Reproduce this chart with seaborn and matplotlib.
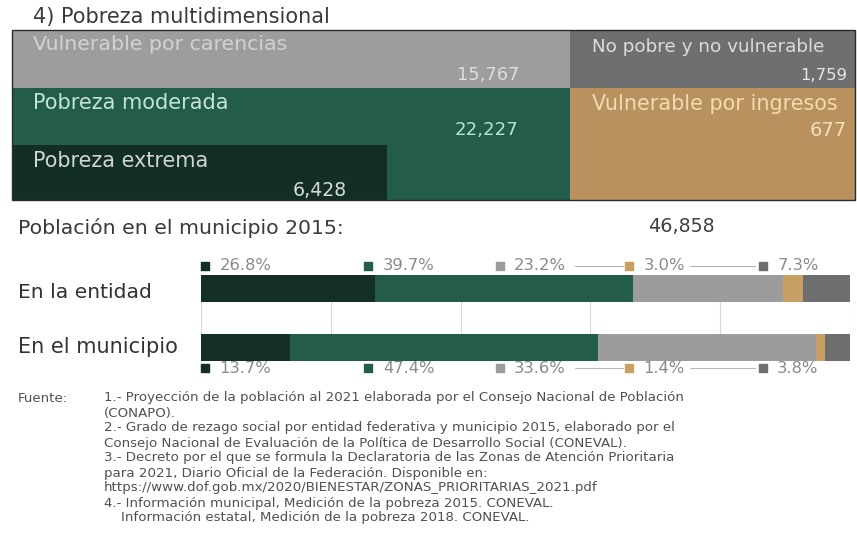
import matplotlib
matplotlib.use("Agg")
import matplotlib.pyplot as plt
import seaborn as sns
import pandas as pd
import numpy as np
from matplotlib.patches import Rectangle

# ---------------- data ----------------
TITLE = "4) Pobreza multidimensional"
BLOCK_LABELS = ["Vulnerable por carencias", "Pobreza moderada", "Pobreza extrema",
                "No pobre y no vulnerable", "Vulnerable por ingresos"]
BLOCK_VALUES = [15767, 22227, 6428, 1759, 677]

POP_LABEL = "Población en el municipio 2015:"
POP_VALUE = 46858

REGIONS = ["En la entidad", "En el municipio"]
CATEGORIES = ["Pobreza extrema", "Pobreza moderada", "Vulnerable por carencias",
              "Vulnerable por ingresos", "No pobre y no vulnerable"]
ENTIDAD_PCT = [26.8, 39.7, 23.2, 3.0, 7.3]
MUNICIPIO_PCT = [13.7, 47.4, 33.6, 1.4, 3.8]

FUENTE = "Fuente:"
FOOTNOTES = [
    "1.- Proyección de la población al 2021 elaborada por el Consejo Nacional de Población",
    "(CONAPO).",
    "2.- Grado de rezago social por entidad federativa y municipio 2015, elaborado por el",
    "Consejo Nacional de Evaluación de la Política de Desarrollo Social (CONEVAL).",
    "3.- Decreto por el que se formula la Declaratoria de las Zonas de Atención Prioritaria",
    "para 2021, Diario Oficial de la Federación. Disponible en:",
    "https://www.dof.gob.mx/2020/BIENESTAR/ZONAS_PRIORITARIAS_2021.pdf",
    "4.- Información municipal, Medición de la pobreza 2015. CONEVAL.",
    "Información estatal, Medición de la pobreza 2018. CONEVAL.",
]

# ---------------- styles / layout ----------------
SEG_COLORS = ["#142f28", "#245c4a", "#9c9c9c", "#c9a064", "#6e6e6e"]
BLOCK_COLORS = ["#9d9d9d", "#245c4a", "#132e27", "#6f6f6f", "#b8915f"]
BLOCK_NAME_COLORS = ["#d2d2d2", "#c3e4d6", "#d0d6d3", "#dcdcdc", "#f2dab2"]
BLOCK_VALUE_COLORS = ["#dedede", "#b2e6d4", "#d6dcd9", "#e6e6e6", "#f5dfba"]
# cell boxes in pixels (x0, y0, x1, y1)
BLOCK_BOXES = [(12, 30, 570, 88), (12, 88, 570, 200), (12, 145, 387, 200),
               (570, 30, 855, 88), (570, 88, 855, 200)]
BLOCK_NAME_POS = [(33, 45, 254), (33, 103, 197), (33, 161, 176), (592, 47, 233), (592, 104, 245)]
BLOCK_VALUE_POS = [(519, 75, 62), (518, 130, 63), (347, 190, 54), (847, 76, 47), (847, 131, 37)]
FOOT_X = [104, 104, 104, 104, 104, 104, 104, 104, 121]

W, H = 857, 546
sns.set_style("white")
plt.rcParams["font.family"] = ["DejaVu Sans"]

fig = plt.figure(figsize=(W / 100, H / 100), dpi=100)
fig.patch.set_facecolor("white")
renderer = fig.canvas.get_renderer()

bg = fig.add_axes([0, 0, 1, 1])
bg.set_xlim(0, W)
bg.set_ylim(H, 0)
bg.axis("off")


def fit_text(ax, x, y, s, target_w, ha="left", color="#3d3d3d", base=10, **kw):
    t = ax.text(x, y, s, ha=ha, va="center", fontsize=base, color=color, **kw)
    bb = t.get_window_extent(renderer)
    t.set_fontsize(base * target_w / bb.width)
    return t


# title
fit_text(bg, 33, 17, TITLE, 297, color="#3a3a3a")

# top block cells
for (x0, y0, x1, y1), c in zip(BLOCK_BOXES, BLOCK_COLORS):
    bg.add_patch(Rectangle((x0, y0), x1 - x0, y1 - y0, facecolor=c, edgecolor="none"))
bg.add_patch(Rectangle((12, 30), 843, 170, facecolor="none", edgecolor="#2b2b2b", lw=1.0))

for lab, val, (nx, ny, nw), (vx, vy, vw), nc, vc in zip(
        BLOCK_LABELS, BLOCK_VALUES, BLOCK_NAME_POS, BLOCK_VALUE_POS,
        BLOCK_NAME_COLORS, BLOCK_VALUE_COLORS):
    fit_text(bg, nx, ny, lab, nw, color=nc)
    fit_text(bg, vx, vy, f"{val:,}", vw, ha="right", color=vc)

# population line
fit_text(bg, 18, 228, POP_LABEL, 324, color="#3a3a3a")
fit_text(bg, 648, 227, f"{POP_VALUE:,}", 67, color="#404040")

# row labels
fit_text(bg, 18, 293, REGIONS[0], 134, color="#333333")
fit_text(bg, 18, 347, REGIONS[1], 160, color="#333333")

# ---------------- stacked bars ----------------
axb = fig.add_axes([200.7 / W, 1 - 361 / H, 649.6 / W, 86 / H])
df = pd.DataFrame({
    "region": np.repeat(REGIONS, len(CATEGORIES)),
    "category": CATEGORIES * 2,
    "pct": ENTIDAD_PCT + MUNICIPIO_PCT,
})
df["cum"] = df.groupby("region")["pct"].cumsum()
for cat, col in reversed(list(zip(CATEGORIES, SEG_COLORS))):
    sub = df[df["category"] == cat]
    sns.barplot(data=sub, x="cum", y="region", order=REGIONS, color=col,
                saturation=1, width=0.46, errorbar=None, orient="h",
                linewidth=0, ax=axb)
axb.set_xlim(0, 100)
axb.set_ylim(1.23, -0.23)
axb.set_xticks([0, 20, 40, 60, 80, 100])
axb.set_xticklabels([])
axb.set_yticklabels([])
axb.set_xlabel("")
axb.set_ylabel("")
axb.tick_params(length=0)
axb.grid(axis="x", color="#d8d8d8", lw=0.8)
axb.grid(axis="y", visible=False)
axb.set_axisbelow(True)
for sp in axb.spines.values():
    sp.set_visible(False)

# percentage labels
LABEL_X = [0.66, 25.8, 46.0, 65.9, 86.5]
LABEL_Y = [-0.385, 1.35]
LEADERS = [(57.6, 65.0), (75.3, 85.4)]
pct_fs = None
for row, pcts in enumerate([ENTIDAD_PCT, MUNICIPIO_PCT]):
    y = LABEL_Y[row]
    for x, p, col in zip(LABEL_X, pcts, SEG_COLORS):
        axb.scatter([x], [y], marker="s", s=30, color=col, clip_on=False, zorder=5)
        t = axb.annotate(f"{p:.1f}%", (x, y), xytext=(10.5, 0), textcoords="offset points",
                         ha="left", va="center", color="#8a8a8a", fontsize=10,
                         annotation_clip=False)
        if pct_fs is None:
            bb = t.get_window_extent(renderer)
            pct_fs = 10 * 52 / bb.width
        t.set_fontsize(pct_fs)
    for x0, x1 in LEADERS:
        axb.plot([x0, x1], [y, y], color="#b5b5b5", lw=0.8, clip_on=False)

# ---------------- footnotes ----------------
FOOT_FS = 9.6
bg.text(18, 398, FUENTE, ha="left", va="center", fontsize=FOOT_FS, color="#505050")
for i, (line, fx) in enumerate(zip(FOOTNOTES, FOOT_X)):
    bg.text(fx, 398 + 15 * i, line, ha="left", va="center", fontsize=FOOT_FS, color="#505050")

fig.savefig("out.png", dpi=100, facecolor="white")
